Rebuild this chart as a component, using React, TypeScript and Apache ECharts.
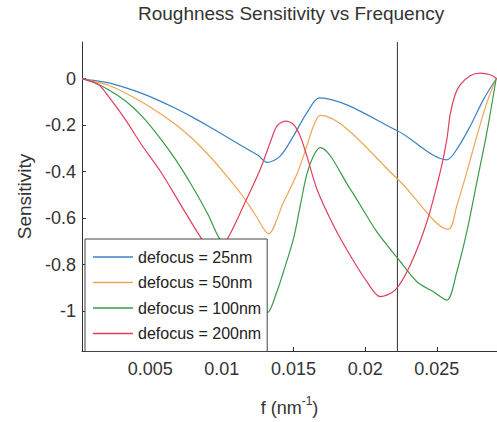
import React, { useEffect, useRef } from "react";
import * as echarts from "echarts";

const seriesNames = [
  "defocus = 25nm",
  "defocus = 50nm",
  "defocus = 100nm",
  "defocus = 200nm",
];

const blueF = [0.00024, 0.00093, 0.00209, 0.00326, 0.00442, 0.00558, 0.00675, 0.00791, 0.00907, 0.01023, 0.0114, 0.01256, 0.01314, 0.01407, 0.01498, 0.01595, 0.01681, 0.02228, 0.0257, 0.0264, 0.02733, 0.02825, 0.02914];
const blueV = [0, -0.006, -0.018, -0.038, -0.063, -0.093, -0.127, -0.164, -0.204, -0.246, -0.289, -0.331, -0.36, -0.333, -0.248, -0.145, -0.082, -0.225, -0.349, -0.303, -0.204, -0.09, 0];

const orangeF = [0.00024, 0.00093, 0.00209, 0.00326, 0.00442, 0.00558, 0.00675, 0.00791, 0.00907, 0.01023, 0.0114, 0.01233, 0.01325, 0.0143, 0.01524, 0.01593, 0.01639, 0.01686, 0.02228, 0.02581, 0.0264, 0.02709, 0.02779, 0.02849, 0.02914];
const orangeV = [0, -0.01, -0.028, -0.061, -0.1, -0.145, -0.196, -0.256, -0.328, -0.41, -0.5, -0.585, -0.667, -0.531, -0.41, -0.289, -0.204, -0.158, -0.432, -0.648, -0.546, -0.403, -0.247, -0.104, 0];

const greenF = [0.00024, 0.00093, 0.00209, 0.00326, 0.00442, 0.00558, 0.00675, 0.00791, 0.00907, 0.00977, 0.0129, 0.0132, 0.01384, 0.0143, 0.015, 0.01547, 0.01593, 0.01639, 0.01686, 0.01895, 0.02082, 0.02228, 0.02361, 0.02476, 0.0257, 0.0264, 0.02709, 0.02779, 0.02849, 0.02914];
const greenV = [0, -0.012, -0.047, -0.095, -0.161, -0.247, -0.346, -0.46, -0.588, -0.681, -0.975, -1.005, -0.916, -0.83, -0.688, -0.546, -0.41, -0.332, -0.296, -0.474, -0.659, -0.773, -0.873, -0.916, -0.952, -0.83, -0.659, -0.446, -0.232, 0];

const redF = [0.00024, 0.00047, 0.0014, 0.00209, 0.00326, 0.00442, 0.0057, 0.00709, 0.00849, 0.00954, 0.01046, 0.01156, 0.01268, 0.01337, 0.01384, 0.01442, 0.015, 0.01547, 0.01593, 0.01663, 0.01779, 0.01895, 0.02012, 0.02105, 0.02209, 0.02314, 0.0243, 0.02523, 0.0257, 0.02593, 0.02628, 0.02663, 0.02733, 0.02803, 0.02872, 0.02919];
const redV = [0, -0.004, -0.026, -0.076, -0.175, -0.286, -0.397, -0.538, -0.679, -0.765, -0.681, -0.54, -0.389, -0.275, -0.204, -0.182, -0.197, -0.247, -0.332, -0.474, -0.631, -0.759, -0.873, -0.937, -0.909, -0.802, -0.617, -0.403, -0.261, -0.154, -0.068, -0.026, 0.013, 0.024, 0.017, 0];

const xTicks = [0.005, 0.01, 0.015, 0.02, 0.025];
const yTicks = [0, -0.2, -0.4, -0.6, -0.8, -1];
const xMin = 0.00024;
const xMax = 0.0292;
const yMin = -1.171;
const yMax = 0.158;
const markerF = 0.02225;

const colors = ["#3b82c4", "#f0a458", "#3a9a48", "#e0405a"];

const zip = (f: number[], v: number[]) => f.map((x, i) => [x, v[i]]);

const FONT = "Liberation Sans, Arial, Helvetica, sans-serif";

export default function App() {
  const ref = useRef<HTMLDivElement>(null);
  useEffect(() => {
    if (!ref.current) return;
    const chart = echarts.init(ref.current, undefined, { renderer: "svg" });
    const datasets = [zip(blueF, blueV), zip(orangeF, orangeV), zip(greenF, greenV), zip(redF, redV)];
    chart.setOption({
      animation: false,
      backgroundColor: "#fff",
      textStyle: { fontFamily: FONT },
      title: {
        text: "Roughness Sensitivity vs Frequency",
        left: 138,
        top: 4,
        padding: 0,
        textStyle: { fontSize: 19, fontWeight: "normal", color: "#333", fontFamily: FONT },
      },
      grid: { left: 82, top: 42, right: 0, bottom: 69, containLabel: false },
      legend: {
        orient: "vertical",
        left: 85,
        top: 239,
        icon: "rect",
        itemWidth: 40,
        itemHeight: 1.4,
        itemGap: 9.5,
        padding: [10, 6, 10, 8],
        backgroundColor: "#fff",
        borderColor: "#444",
        borderWidth: 1,
        textStyle: { fontSize: 16, lineHeight: 16, color: "#222", fontFamily: FONT },
        data: seriesNames,
      },
      xAxis: {
        type: "value",
        min: xMin,
        max: xMax,
        name: "{a|f (nm}{b|-1}{a|)}",
        nameLocation: "middle",
        nameGap: 44,
        nameTextStyle: {
          color: "#333",
          rich: {
            a: { fontSize: 18, lineHeight: 26, color: "#333", fontFamily: FONT },
            b: { fontSize: 12, lineHeight: 14, verticalAlign: "top", color: "#333", fontFamily: FONT },
          },
        },
        axisLine: { show: true, onZero: false, lineStyle: { color: "#333", width: 1 } },
        axisTick: { show: true, inside: true, length: 4, customValues: xTicks, lineStyle: { color: "#333" } },
        axisLabel: { customValues: xTicks, fontSize: 18, margin: 9, color: "#333", fontFamily: FONT, formatter: (v: number) => String(v) },
        splitLine: { show: false },
      },
      yAxis: {
        type: "value",
        min: yMin,
        max: yMax,
        name: "Sensitivity",
        nameLocation: "middle",
        nameRotate: 90,
        nameGap: 48,
        nameTextStyle: { fontSize: 19, color: "#333", fontFamily: FONT },
        axisLine: { show: true, onZero: false, lineStyle: { color: "#333", width: 1 } },
        axisTick: { show: true, inside: true, length: 4, customValues: yTicks, lineStyle: { color: "#333" } },
        axisLabel: { customValues: yTicks, fontSize: 18, margin: 6, color: "#333", fontFamily: FONT, formatter: (v: number) => String(v) },
        splitLine: { show: false },
      },
      series: [
        {
          name: "marker",
          type: "line",
          data: [[markerF, yMin], [markerF, yMax]],
          symbol: "none",
          silent: true,
          lineStyle: { color: "#333", width: 1 },
          z: 1,
        },
        ...seriesNames.map((name, i) => ({
          name,
          type: "line",
          data: datasets[i],
          symbol: "none",
          smooth: 0.3,
          lineStyle: { color: colors[i], width: 1.2 },
          itemStyle: { color: colors[i] },
          z: 2,
        })),
      ],
    });
    return () => chart.dispose();
  }, []);
  return <div ref={ref} style={{ position: "fixed", left: 0, top: 0, width: 497, height: 422 }} />;
}
